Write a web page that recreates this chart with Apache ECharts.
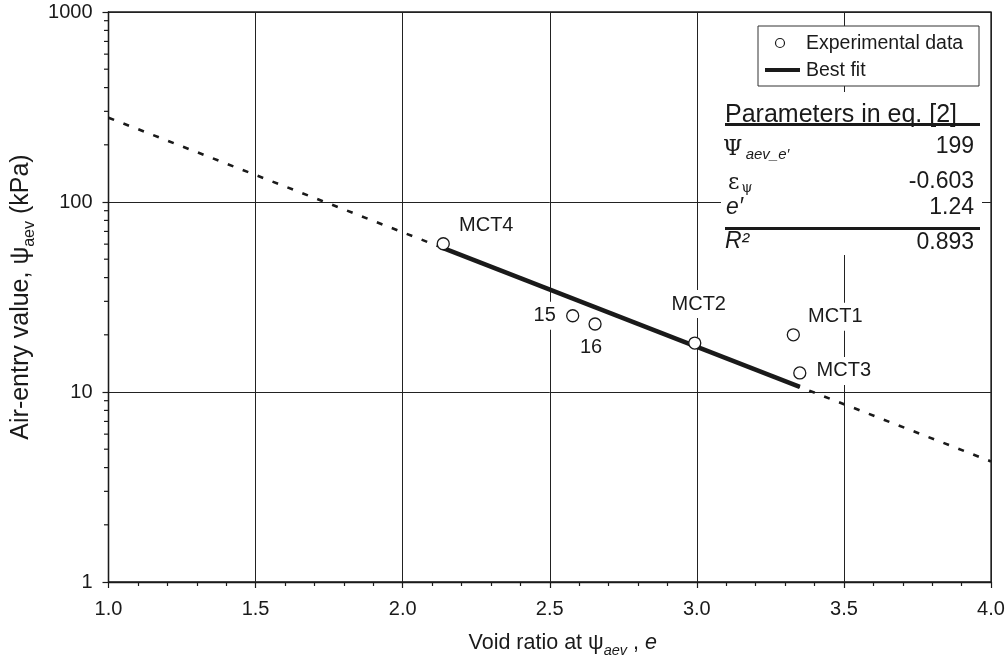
<!DOCTYPE html>
<html>
<head>
<meta charset="utf-8">
<script src="https://cdn.jsdelivr.net/npm/echarts@6/dist/echarts.min.js"></script>
<style>
  html, body { margin: 0; padding: 0; background: #fff; }
  #chart { width: 1008px; height: 663px; }
</style>
</head>
<body>
<div id="chart"></div>
<script>
// Measured air-entry values of the specimens and their void ratios
const specimenNames  = ['MCT4', '15', '16', 'MCT2', 'MCT1', 'MCT3'];
const voidRatios     = [2.138, 2.578, 2.654, 2.993, 3.328, 3.350];
const airEntryValues = [60.3, 25.2, 22.8, 18.1, 20.0, 12.6];

// Fitted parameters of eq. [2]
const psiRef   = 199;     // ψ_aev_e'
const epsPsi   = -0.603;  // ε_ψ
const eRef     = 1.24;    // e'
const rSquared = 0.893;   // R²

// Axis ranges
const xRange = [1.0, 4.0];
const xStep = 0.5;
const yRange = [1, 1000];
const yMinorTicks = [2, 3, 4, 5, 6, 7, 8, 9, 20, 30, 40, 50, 60, 70, 80, 90,
                     200, 300, 400, 500, 600, 700, 800, 900];

// Label placement around each marker (pixels, relative to marker centre)
const labelOffsets = [[43, -18], [-28, 0], [-4, 23], [4, -39], [42, -18], [44, -2]];

const INK = '#1a1a1a';
const FONT = '"Liberation Sans", Arial, sans-serif';
const SERIF = '"DejaVu Serif", "Liberation Serif", serif';

// eq. [2]: log-linear relation between air-entry value and void ratio
function fitPsi(e) { return psiRef * Math.pow(10, epsPsi * (e - eRef)); }

const eMin = Math.min(...voidRatios);
const eMax = Math.max(...voidRatios);

const chart = echarts.init(document.getElementById('chart'), null, { renderer: 'canvas' });

const option = {
  animation: false,
  backgroundColor: '#fff',
  textStyle: { fontFamily: FONT, color: INK },
  grid: {
    left: 108.5, top: 12, width: 882.5, height: 570.5,
    show: true, borderColor: INK, borderWidth: 1.3, backgroundColor: 'transparent'
  },
  xAxis: {
    type: 'value', min: xRange[0], max: xRange[1], interval: xStep,
    axisLine: { show: true, onZero: false, lineStyle: { color: INK, width: 1.3 } },
    axisTick: { show: true, inside: false, length: 6, lineStyle: { color: INK, width: 1.2 } },
    minorTick: { show: true, splitNumber: 5, length: 4, lineStyle: { color: INK, width: 1.2 } },
    splitLine: { show: true, lineStyle: { color: '#222', width: 1 } },
    axisLabel: { fontSize: 20, color: INK, margin: 17, fontFamily: FONT,
                 formatter: v => v.toFixed(1) },
    name: '{t|Void ratio at }{g|ψ}{s|aev}{t| , }{i|e}',
    nameLocation: 'middle', nameGap: 46,
    nameTextStyle: {
      padding: [0, 0, 0, 26],
      rich: {
        t: { fontSize: 21.5, fontFamily: FONT, color: INK, lineHeight: 30 },
        g: { fontSize: 22, fontFamily: FONT, color: INK, lineHeight: 30 },
        s: { fontSize: 14.5, fontFamily: FONT, fontStyle: 'italic', color: INK,
             lineHeight: 19, verticalAlign: 'bottom' },
        i: { fontSize: 21.5, fontFamily: FONT, fontStyle: 'italic', color: INK, lineHeight: 30 }
      }
    }
  },
  yAxis: {
    type: 'log', logBase: 10, min: yRange[0], max: yRange[1],
    axisLine: { show: true, lineStyle: { color: INK, width: 1.3 } },
    axisTick: { show: true, inside: false, length: 6, lineStyle: { color: INK, width: 1.2 } },
    splitLine: { show: true, lineStyle: { color: '#222', width: 1 } },
    axisLabel: { fontSize: 20, color: INK, margin: 16, fontFamily: FONT,
                 formatter: v => String(Math.round(v)) },
    name: '{t|Air-entry value, }{g|ψ}{s|aev}{t| (kPa)}',
    nameLocation: 'middle', nameGap: 64, nameRotate: 90,
    nameTextStyle: {
      rich: {
        t: { fontSize: 25, fontFamily: FONT, color: INK, lineHeight: 32 },
        g: { fontSize: 25, fontFamily: FONT, color: INK, lineHeight: 32 },
        s: { fontSize: 16, fontFamily: FONT, color: INK, lineHeight: 20, verticalAlign: 'bottom' }
      }
    }
  },
  series: [
    {
      // eq. [2] extended over the whole axis range
      type: 'line', name: 'extension', silent: true, z: 2,
      symbol: 'none',
      data: xRange.map(e => [e, fitPsi(e)]),
      lineStyle: { color: INK, width: 2.6, type: [6, 10] }
    },
    {
      type: 'line', name: 'Best fit', silent: true, z: 3,
      symbol: 'none',
      data: [eMin, eMax].map(e => [e, fitPsi(e)]),
      lineStyle: { color: INK, width: 4.5 }
    },
    {
      type: 'scatter', name: 'Experimental data', z: 4,
      symbol: 'circle', symbolSize: 12,
      itemStyle: { color: '#fff', borderColor: INK, borderWidth: 1.3, opacity: 1 },
      label: {
        show: true, position: 'inside', formatter: '{b}',
        fontSize: 20, fontFamily: FONT, color: INK,
        backgroundColor: '#fff', padding: [4, 3],
        align: 'center', verticalAlign: 'middle'
      },
      data: specimenNames.map((n, i) => ({
        name: n,
        value: [voidRatios[i], airEntryValues[i]],
        label: { offset: labelOffsets[i] }
      }))
    },
    {
      // logarithmic minor ticks on the ψ axis
      type: 'custom', name: 'minor ticks', silent: true, clip: false, z: 5,
      data: yMinorTicks.map(v => [xRange[0], v]),
      encode: { x: 0, y: 1 },
      renderItem: (params, api) => {
        const p = api.coord([api.value(0), api.value(1)]);
        return {
          type: 'line',
          shape: { x1: p[0] - 4.5, y1: p[1], x2: p[0], y2: p[1] },
          style: { stroke: INK, lineWidth: 1.2 }
        };
      }
    }
  ],
  graphic: {
    elements: [
      // legend
      { type: 'rect', z: 100, shape: { x: 758, y: 26, width: 221, height: 60 },
        style: { fill: '#fff', stroke: '#333', lineWidth: 1 } },
      { type: 'circle', z: 101, shape: { cx: 780, cy: 43, r: 4.5 },
        style: { fill: '#fff', stroke: INK, lineWidth: 1.2 } },
      { type: 'text', z: 101, x: 806, y: 44,
        style: { text: 'Experimental data', font: '19.5px ' + FONT, fill: INK,
                 verticalAlign: 'middle' } },
      { type: 'line', z: 101, shape: { x1: 765, y1: 70, x2: 800, y2: 70 },
        style: { stroke: INK, lineWidth: 4 } },
      { type: 'text', z: 101, x: 806, y: 71,
        style: { text: 'Best fit', font: '19.5px ' + FONT, fill: INK,
                 verticalAlign: 'middle' } },

      // parameter table
      { type: 'rect', z: 100, shape: { x: 721, y: 92, width: 261, height: 163 },
        style: { fill: '#fff' } },
      { type: 'text', z: 101, x: 725, y: 115,
        style: { text: 'Parameters in eq. [2]', font: '25px ' + FONT, fill: INK,
                 verticalAlign: 'middle' } },
      { type: 'line', z: 101, shape: { x1: 725, y1: 124.5, x2: 980, y2: 124.5 },
        style: { stroke: INK, lineWidth: 3 } },

      { type: 'text', z: 101, x: 723, y: 149,
        style: {
          text: '{g|Ψ} {s|aev_e\u2032}', verticalAlign: 'middle', fill: INK,
          rich: {
            g: { fontSize: 22, fontFamily: SERIF, fill: INK, lineHeight: 26 },
            s: { fontSize: 15, fontFamily: FONT, fontStyle: 'italic', fill: INK,
                 lineHeight: 20, verticalAlign: 'bottom' }
          }
        } },
      { type: 'text', z: 101, x: 974, y: 147,
        style: { text: String(psiRef), font: '23px ' + FONT, fill: INK,
                 align: 'right', verticalAlign: 'middle' } },

      { type: 'text', z: 101, x: 728, y: 183,
        style: {
          text: '{g|ε}{s|ψ}', verticalAlign: 'middle', fill: INK,
          rich: {
            g: { fontSize: 22, fontFamily: SERIF, fill: INK, lineHeight: 24 },
            s: { fontSize: 14, fontFamily: SERIF, fill: INK, lineHeight: 14,
                 verticalAlign: 'bottom', padding: [0, 0, 0, 2] }
          }
        } },
      { type: 'text', z: 101, x: 974, y: 182,
        style: { text: epsPsi.toFixed(3), font: '23px ' + FONT, fill: INK,
                 align: 'right', verticalAlign: 'middle' } },

      { type: 'text', z: 101, x: 726, y: 208,
        style: { text: 'e\u2032', font: 'italic 23px ' + FONT, fill: INK,
                 verticalAlign: 'middle' } },
      { type: 'text', z: 101, x: 974, y: 208,
        style: { text: eRef.toFixed(2), font: '23px ' + FONT, fill: INK,
                 align: 'right', verticalAlign: 'middle' } },
      { type: 'line', z: 101, shape: { x1: 725, y1: 228.5, x2: 980, y2: 228.5 },
        style: { stroke: INK, lineWidth: 3 } },

      { type: 'text', z: 101, x: 725, y: 242,
        style: { text: 'R²', font: 'italic 23px ' + FONT, fill: INK,
                 verticalAlign: 'middle' } },
      { type: 'text', z: 101, x: 974, y: 243,
        style: { text: rSquared.toFixed(3), font: '23px ' + FONT, fill: INK,
                 align: 'right', verticalAlign: 'middle' } }
    ]
  }
};

chart.setOption(option);
</script>
</body>
</html>
